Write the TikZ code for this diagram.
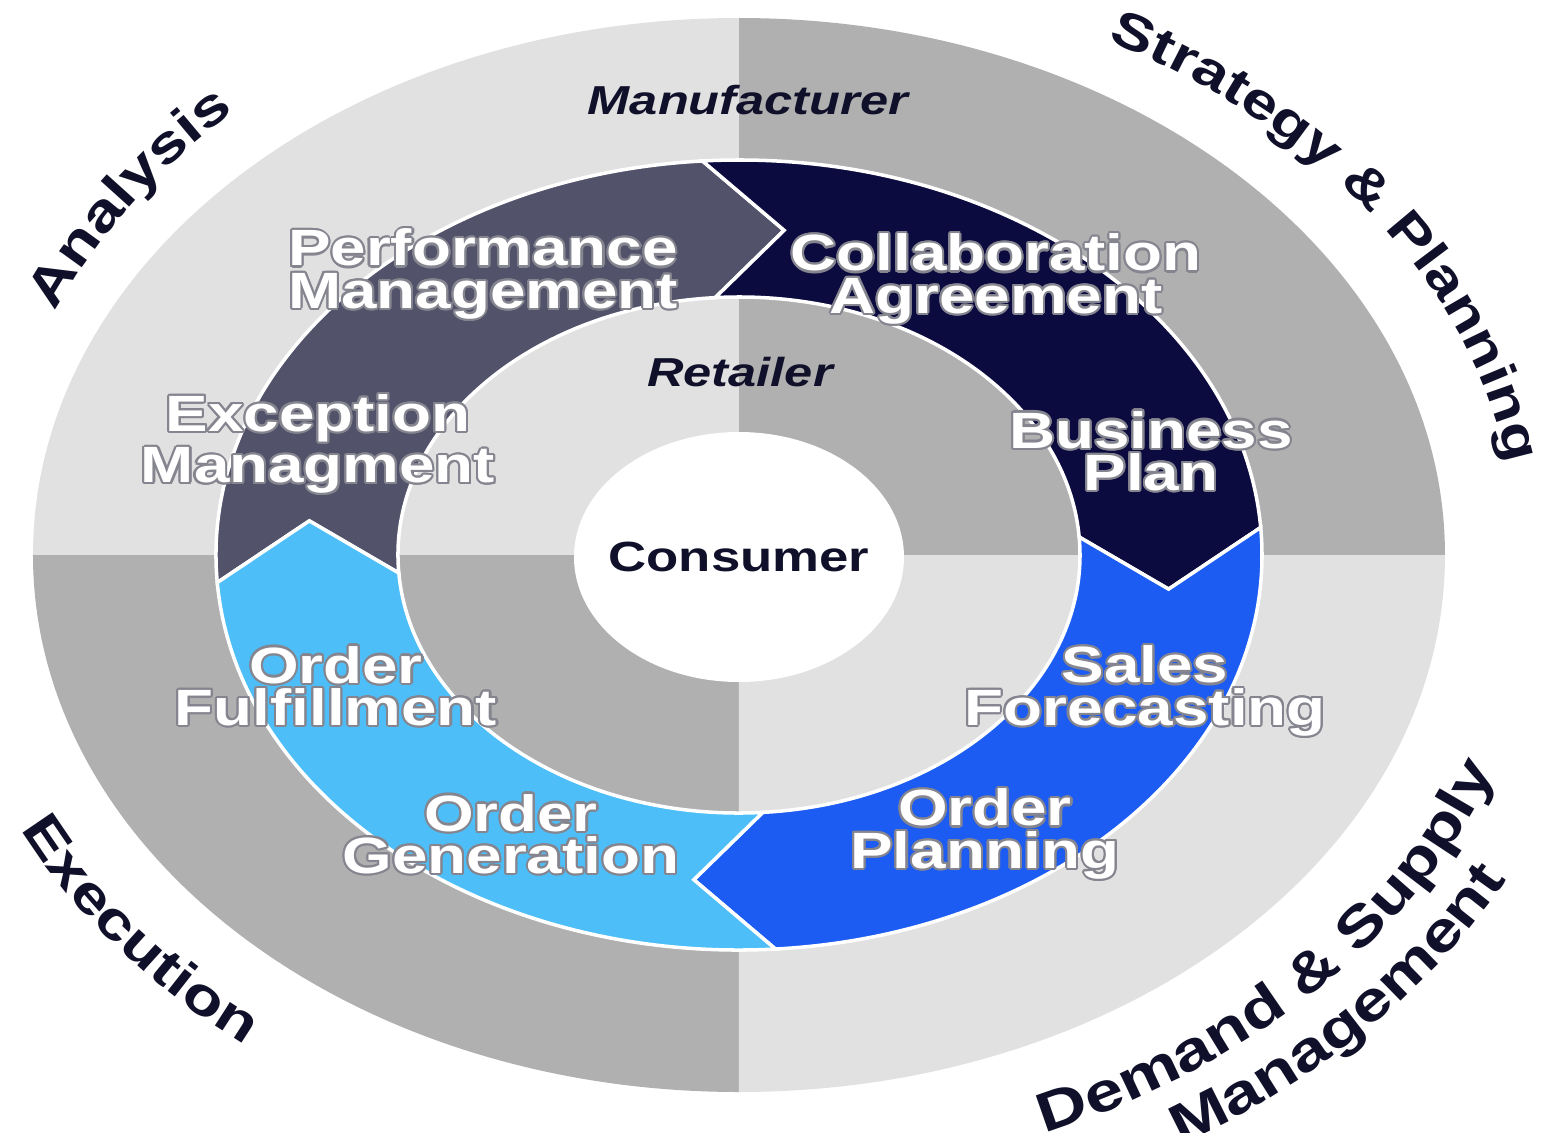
\documentclass[tikz,border=0pt]{standalone}
\usepackage{fontspec}
\usepackage[copies]{contour}
\usepackage{tikz}
\usetikzlibrary{decorations.text}
\newfontfamily\diagfont[FakeStretch=1.25]{Liberation Sans}
\definecolor{lightquad}{HTML}{E1E1E1}
\definecolor{darkquad}{HTML}{B0B0B0}
\definecolor{perfgrey}{HTML}{52536B}
\definecolor{collabnavy}{HTML}{0C0B3F}
\definecolor{planblue}{HTML}{1C5CF2}
\definecolor{orderblue}{HTML}{4DBEF8}
\definecolor{ink}{HTML}{10102A}
\definecolor{glowgrey}{HTML}{85858F}
\contourlength{0.6pt}
\newcommand{\glow}[1]{\contour{glowgrey}{#1}}
\newcommand{\ringarrow}[2]{
\filldraw[fill=#2,draw=white,line width=1pt,line join=miter]
 (#1:523 and 395) arc[start angle=#1,end angle=#1-90,x radius=523,y radius=395]
 -- (#1-100:432 and 326.5) -- (#1-90:341 and 258)
 arc[start angle=#1-90,end angle=#1,x radius=341,y radius=258]
 -- (#1-10:432 and 326.5) -- cycle;}

\begin{document}
\begin{tikzpicture}[x=0.01cm,y=0.01cm,
ringtext/.style={text=white,align=center,inner sep=0pt,font=\diagfont\bfseries\fontsize{14.5}{12}\selectfont},
rimtext/.style 2 args={decorate,decoration={text along path,text align=center,
 text={|\diagfont\bfseries\fontsize{#1}{18}\selectfont\color{ink}|#2}}}]
\useasboundingbox (-739,-577) rectangle (805,555);
\foreach \a/\c in {0/darkquad,90/lightquad,180/darkquad,270/lightquad}{
\fill[\c] (0,0) -- (\a:706 and 537) arc[start angle=\a,end angle=\a+90,x radius=706,y radius=537] -- cycle;}
\foreach \a/\c in {184/perfgrey,94/collabnavy,4/planblue,-86/orderblue}{
\ringarrow{\a}{\c}}
\fill[white] (0,-2) ellipse[x radius=165,y radius=125];
%labels in the ring
\node[ringtext] (perf) at (-256,280) {\glow{Performance}\\\glow{Management}};
\node[ringtext] (collab) at (257,275) {\glow{Collaboration}\\\glow{Agreement}};
\node[ringtext] (business) at (412,103) {\glow{Business}\\\glow{Plan}};
\node[ringtext] (exception) at (-421,110) {\glow{Exception}\\\glow{Managment}};
\node[ringtext] (fulfil) at (-403,-132) {\glow{Order}\\\glow{Fulfillment}};
\node[ringtext] (generation) at (-228,-280) {\glow{Order}\\\glow{Generation}};
\node[ringtext] (sales) at (406,-137) {\glow{Sales}\\\glow{Forecasting}};
\node[ringtext] (planning) at (246,-280) {\glow{Order}\\\glow{Planning}};
\node[text=ink,font=\diagfont\bfseries\fontsize{12}{14}\selectfont] (consumer) at (0,-2) {Consumer};
\node[text=ink,font=\diagfont\bfseries\itshape\fontsize{11.5}{14}\selectfont] (retailer) at (1,183) {Retailer};
\node[text=ink,font=\diagfont\bfseries\itshape\fontsize{11.5}{14}\selectfont] (maker) at (9,455) {Manufacturer};
%labels round the rim
\path[rimtext={15}{Analysis}] (181:748 and 600) arc[start angle=181,end angle=111,x radius=748,y radius=600];
\path[rimtext={14.5}{Strategy {\&} Planning}] (78:778 and 584) arc[start angle=78,end angle=-12,x radius=778,y radius=584];
\path[rimtext={15}{Execution}] (182:800 and 623) arc[start angle=182,end angle=252,x radius=800,y radius=623];
\path[rimtext={15.8}{Demand {\&} Supply}] (-86.5:805 and 625) arc[start angle=-86.5,end angle=3.5,x radius=805,y radius=625];
\path[rimtext={15.8}{Management}] (-86:872 and 684) arc[start angle=-86,end angle=4,x radius=872,y radius=684];
\end{tikzpicture}
\end{document}
